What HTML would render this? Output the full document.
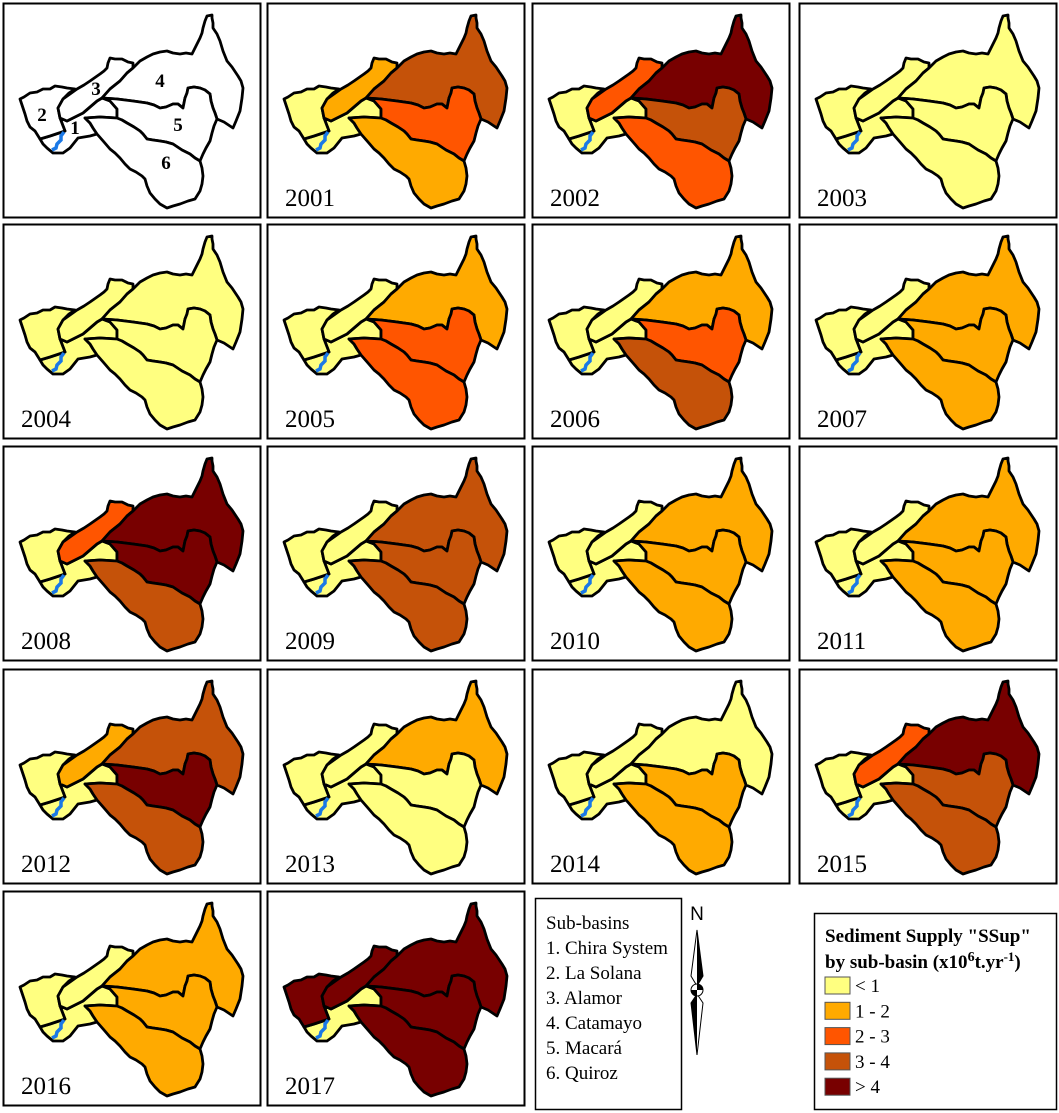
<!DOCTYPE html>
<html><head><meta charset="utf-8">
<style>
html,body{margin:0;padding:0;background:#fff;}
svg{display:block;}
text{font-family:"Liberation Serif",serif;}
</style></head>
<body>
<svg id="fig" width="1059" height="1113" viewBox="0 0 1059 1113" xmlns="http://www.w3.org/2000/svg">
  <g id="panels"></g>

  <g>
    <rect x="535.5" y="898.5" width="146" height="211" fill="#fff" stroke="#000" stroke-width="1.5"/>
    <text x="546" y="929" font-size="19">Sub-basins</text>
    <text x="546" y="954" font-size="19">1. Chira System</text>
    <text x="546" y="979" font-size="19">2. La Solana</text>
    <text x="546" y="1004" font-size="19">3. Alamor</text>
    <text x="546" y="1029" font-size="19">4. Catamayo</text>
    <text x="546" y="1054" font-size="19">5. Macará</text>
    <text x="546" y="1079" font-size="19">6. Quiroz</text>
  </g>

  <g>
    <text x="697" y="920" font-size="19" text-anchor="middle" style="font-family:'Liberation Sans',sans-serif">N</text>
    <polygon points="697,930 703,976 697,986 691,976" fill="#fff" stroke="#000" stroke-width="1"/>
    <polygon points="697,930 703,976 697,986" fill="#000"/>
    <polygon points="697,1055 703,1003 697,994 691,1003" fill="#fff" stroke="#000" stroke-width="1"/>
    <polygon points="697,1055 691,1003 697,994" fill="#000"/>
    <circle cx="697" cy="990" r="6" fill="#fff" stroke="#000" stroke-width="1"/>
    <path d="M697,984 A6,6 0 0 1 703,990 L697,990 Z M697,996 A6,6 0 0 1 691,990 L697,990 Z" fill="#000"/>
  </g>

  <g id="legend">
    <rect x="814.5" y="913.5" width="242" height="196" fill="#fff" stroke="#000" stroke-width="1.5"/>
    <text x="825" y="942" font-size="19" font-weight="bold">Sediment Supply "SSup"</text>
    <text x="825" y="968" font-size="19" font-weight="bold">by sub-basin (x10<tspan dy="-7" font-size="14">6</tspan><tspan dy="7">t.yr</tspan><tspan dy="-7" font-size="13">-1</tspan><tspan dy="7">)</tspan></text>
  </g>
</svg>
<script>
const years = ["", "2001","2002","2003","2004","2005","2006","2007","2008","2009","2010","2011","2012","2013","2014","2015","2016","2017"];
// class index per basin [1 Chira, 2 La Solana, 3 Alamor, 4 Catamayo, 5 Macará, 6 Quiroz]; -1 = blank outline
const basin1 = [-1,0,0,0,0,0,0,0,0,0,0,0,0,0,0,0,0,0];
const basin2 = [-1,0,0,0,0,0,0,0,0,0,0,0,0,0,0,0,0,4];
const basin3 = [-1,1,2,0,0,0,0,0,2,0,0,0,1,0,0,2,0,4];
const basin4 = [-1,3,4,0,0,1,1,1,4,3,1,1,3,1,0,4,1,4];
const basin5 = [-1,2,3,0,0,2,2,1,4,3,1,1,4,0,1,3,1,4];
const basin6 = [-1,1,2,0,0,2,3,1,3,3,1,1,3,0,1,3,1,4];
const classLabels = ["< 1","1 - 2","2 - 3","3 - 4","> 4"];
const classColors = ["#ffff80","#ffaa00","#ff5500","#c55209","#780000"];

const NS = "http://www.w3.org/2000/svg";
const colX = [3,267,532,799];
const rowY = [3,224,446,669,891];
const panelW = 257, panelH = 214;

const shapes = [
 "43,143 40,138 50,135 65,130 60,117 67,120 75,116 83,112 90,106 97,100 102,97 110,100 117,108 117,117 100,116 85,117 90,122 93,127 97,133 90,135 78,137 74,142 70,147 63,152 53,152 47,147",
 "20,98 24,96 30,92 37,91 43,88 50,88 55,85 62,86 67,87 75,88 69,92 63,98 58,107 60,117 65,130 50,135 40,138 35,130 30,126 27,120 25,113 23,107",
 "102,97 97,100 90,106 83,112 75,116 67,120 60,117 58,107 63,98 70,93 77,88 84,84 90,80 100,73 104,70 107,67 108,62 110,57 115,58 122,58 128,61 133,62 133,67 127,72 120,80 110,88",
 "102,97 110,88 120,80 127,72 133,67 140,60 147,56 153,53 160,51 167,50 173,52 180,53 186,52 192,53 196,45 200,37 202,32 203,27 205,20 207,15 212,14 212,17 213,22 213,27 217,33 220,40 223,50 227,60 232,66 238,75 241,80 243,87 242,97 240,110 236,120 233,127 230,125 224,121 217,118 215,112 213,107 211,100 210,93 205,89 200,87 194,86 188,87 187,92 185,97 183,107 178,103 173,103 166,106 160,107 154,104 147,102 140,101 133,100 125,99 117,98",
 "102,97 117,98 125,99 133,100 140,101 147,102 154,104 160,107 166,106 173,103 178,103 183,107 185,97 187,92 188,87 194,86 200,87 205,89 210,93 211,100 213,107 215,112 217,118 214,125 212,132 210,140 206,147 203,153 200,160 195,157 190,153 182,149 173,143 166,141 160,140 153,139 147,138 143,133 140,130 134,126 127,122 122,119 117,117 117,108 110,100",
 "85,117 100,116 117,117 122,119 127,122 134,126 140,130 143,133 147,138 153,139 160,140 166,141 173,143 182,149 190,153 195,157 200,160 202,167 203,175 202,183 200,190 195,198 188,200 180,203 173,205 167,207 160,203 155,198 150,192 147,185 145,178 142,175 136,171 130,168 125,163 120,157 115,152 110,148 104,141 97,133 93,127 90,122"
];
const basinNames = ["chira-system","la-solana","alamor","catamayo","macara","quiroz"];
const series = [basin1,basin2,basin3,basin4,basin5,basin6];
const numLabels = [[75,133,"1"],[42,120,"2"],[96,94,"3"],[160,86,"4"],[178,130,"5"],[166,168,"6"]];

const panels = document.getElementById("panels");
years.forEach((yr, i) => {
  const r = Math.floor(i/4), c = i%4;
  const g = document.createElementNS(NS,"g");
  
  
  const rect = document.createElementNS(NS,"rect");
  rect.setAttribute("x", colX[c]+0.5); rect.setAttribute("y", rowY[r]+0.5);
  rect.setAttribute("width", panelW); rect.setAttribute("height", panelH);
  rect.setAttribute("fill","#fff"); rect.setAttribute("stroke","#000"); rect.setAttribute("stroke-width","2");
  g.appendChild(rect);
  const m = document.createElementNS(NS,"g");
  m.setAttribute("transform", "translate(" + (colX[c]-3) + "," + (rowY[r]-2) + ")");
  shapes.forEach((pts, b) => {
    const p = document.createElementNS(NS,"polygon");
    
    
    const v = series[b][i];
    p.setAttribute("points", pts);
    p.setAttribute("fill", v < 0 ? "#fff" : classColors[v]);
    p.setAttribute("stroke","#000"); p.setAttribute("stroke-width","2.8"); p.setAttribute("stroke-linejoin","round");
    m.appendChild(p);
  });
  const res = document.createElementNS(NS,"polyline");
  
  
  res.setAttribute("points","64,131 61,135 61,139 57,143 56,147 52,149");
  res.setAttribute("fill","none"); res.setAttribute("stroke","#1a78e6"); res.setAttribute("stroke-width","3.5");
  m.appendChild(res);
  if (!yr) {
    numLabels.forEach(l => {
      const t = document.createElementNS(NS,"text");
      
      
      t.setAttribute("x", l[0]); t.setAttribute("y", l[1]);
      t.setAttribute("font-size","19"); t.setAttribute("font-weight","bold"); t.setAttribute("text-anchor","middle");
      t.textContent = l[2];
      m.appendChild(t);
    });
  }
  g.appendChild(m);
  if (yr) {
    const t = document.createElementNS(NS,"text");
    
    
    t.setAttribute("x", colX[c]+18); t.setAttribute("y", rowY[r]+203);
    t.setAttribute("font-size","25");
    t.textContent = yr;
    g.appendChild(t);
  }
  panels.appendChild(g);
});

const legend = document.getElementById("legend");
classLabels.forEach((lab, k) => {
  const sw = document.createElementNS(NS,"rect");
  
  
  sw.setAttribute("x", 825); sw.setAttribute("y", 977 + k*25.3);
  sw.setAttribute("width", 25); sw.setAttribute("height", 17);
  sw.setAttribute("fill", classColors[k]); sw.setAttribute("stroke","#555"); sw.setAttribute("stroke-width","1");
  legend.appendChild(sw);
  const t = document.createElementNS(NS,"text");
  
  
  t.setAttribute("x", 855); t.setAttribute("y", 992 + k*25.3);
  t.setAttribute("font-size","19");
  t.textContent = lab;
  legend.appendChild(t);
});
</script>
</body></html>
